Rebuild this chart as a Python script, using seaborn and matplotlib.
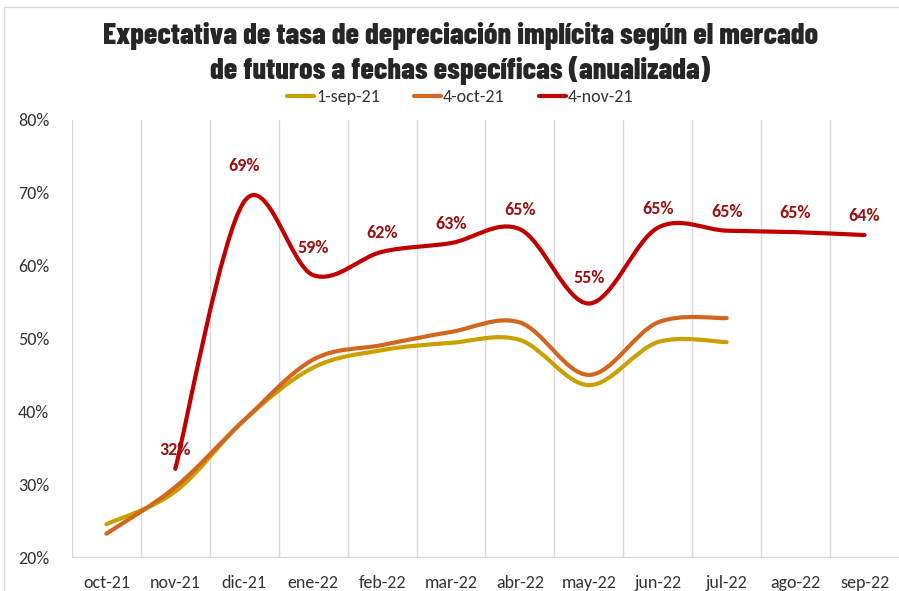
import numpy as np
import pandas as pd
import matplotlib
matplotlib.use('Agg')
import matplotlib.pyplot as plt
import seaborn as sns
from matplotlib.path import Path
from matplotlib.patches import PathPatch, Rectangle
from matplotlib import font_manager

# categories (months) and series values in %
meses = ['oct-21', 'nov-21', 'dic-21', 'ene-22', 'feb-22', 'mar-22',
         'abr-22', 'may-22', 'jun-22', 'jul-22', 'ago-22', 'sep-22']
sep21 = [24.5, 29.0, 38.8, 46.0, 48.4, 49.4, 49.8, 43.6, 49.5, 49.5]
oct21 = [23.2, 29.6, 38.8, 47.1, 49.1, 50.9, 52.2, 45.0, 52.2, 52.8]
nov21 = [32.1, 68.8, 58.7, 61.9, 63.1, 65.0, 54.8, 65.2, 64.8, 64.6, 64.2]
nov21_start = 1  # 4-nov-21 starts at nov-21

series = ['1-sep-21', '4-oct-21', '4-nov-21']
colores = ['#C9A000', '#D2661E', '#C00000']
label_color = '#9A0F0F'
titulo = ['Expectativa de tasa de depreciación implícita según el mercado',
          'de futuros a fechas específicas (anualizada)']

rows = []
for i, v in enumerate(sep21):
    rows.append((series[0], i, v))
for i, v in enumerate(oct21):
    rows.append((series[1], i, v))
for i, v in enumerate(nov21):
    rows.append((series[2], i + nov21_start, v))
df = pd.DataFrame(rows, columns=['serie', 'pos', 'valor'])


def pick(prefs, default):
    names = {f.name for f in font_manager.fontManager.ttflist}
    for p in prefs:
        if p in names:
            return p
    return default


body_font = pick(['Carlito', 'Lato'], 'DejaVu Sans')
title_font = pick(['Barlow Condensed', 'Fira Sans Extra Condensed', 'Fjalla One',
                   'Oswald'], 'DejaVu Sans')

sns.set_style('white')
plt.rcParams['font.family'] = [body_font, 'DejaVu Sans']


def smooth_path(x, y):
    # Excel-like smoothed line: cubic bezier segments through each point
    pts = np.column_stack([x, y]).astype(float)
    n = len(pts)
    verts = [pts[0]]
    codes = [Path.MOVETO]
    for i in range(n - 1):
        p0 = pts[max(i - 1, 0)]
        p1 = pts[i]
        p2 = pts[i + 1]
        p3 = pts[min(i + 2, n - 1)]
        c1 = p1 + (p2 - p0) / 6.0
        c2 = p2 - (p3 - p1) / 6.0
        verts += [c1, c2, p2]
        codes += [Path.CURVE4] * 3
    return Path(verts, codes)


fig = plt.figure(figsize=(8.99, 5.91), dpi=100)
ax = fig.add_axes([0.080, 0.0575, 0.92, 0.7395])

sns.lineplot(data=df, x='pos', y='valor', hue='serie', hue_order=series,
             palette=colores, linewidth=3, ax=ax, legend=True)

# replace straight segments with smoothed curves
for line, c in zip(ax.lines, colores):
    xd, yd = line.get_xdata(), line.get_ydata()
    patch = PathPatch(smooth_path(xd, yd), facecolor='none', edgecolor=c,
                      lw=3, capstyle='round', joinstyle='round',
                      transform=ax.transData, zorder=3)
    ax.add_patch(patch)
    line.set_visible(False)

# data labels for 4-nov-21 (a few sit higher, as in the original)
extra = {1: 12, 2: 6, 6: 5}
for i, v in enumerate(nov21):
    ax.annotate(f'{round(v):.0f}%', (i + nov21_start, v),
                xytext=(0, 13.5 + extra.get(i, 0)),
                textcoords='offset points', ha='center', va='center',
                fontsize=13, fontweight='bold', color=label_color, zorder=4)

ax.set_xlim(-0.5, len(meses) - 0.5)
ax.set_ylim(20, 80)
ax.set_yticks(range(20, 81, 10))
ax.set_yticklabels([f'{t}%' for t in range(20, 81, 10)])
ax.set_xticks(range(len(meses)))
ax.set_xticklabels(meses)
ax.set_xticks(np.arange(-0.5, len(meses) - 0.5, 1.0), minor=True)
ax.tick_params(axis='x', which='major', length=0, pad=13, labelsize=13,
               labelcolor='#333333')
ax.tick_params(axis='x', which='minor', length=10, width=1, color='#D9D9D9')
ax.tick_params(axis='y', length=0, pad=39, labelsize=13, labelcolor='#333333')
for lab in ax.get_yticklabels():
    lab.set_horizontalalignment('left')
ax.grid(axis='x', which='minor', color='#D9D9D9', lw=1)
ax.grid(axis='y', visible=False)
ax.set_xlabel('')
ax.set_ylabel('')
for s in ['top', 'right', 'left']:
    ax.spines[s].set_visible(False)
ax.spines['bottom'].set_color('#D9D9D9')
ax.spines['bottom'].set_linewidth(1)
ax.set_axisbelow(True)

handles, labels = ax.get_legend_handles_labels()
leg = ax.legend(handles, labels, loc='center', bbox_to_anchor=(0.512, 1 - 97 / 591),
                bbox_transform=fig.transFigure, ncol=3, frameon=False,
                fontsize=13, handlelength=1.5, handletextpad=0.1,
                columnspacing=1.9)
for t in leg.get_texts():
    t.set_color('#333333')

# two-line bold condensed title
fig.text(0.512, 1 - 44 / 591, titulo[0], ha='center', va='baseline',
         fontsize=21.7, fontweight=800, family=[title_font, 'DejaVu Sans'])
fig.text(0.512, 1 - 79 / 591, titulo[1], ha='center', va='baseline',
         fontsize=21.7, fontweight=800, family=[title_font, 'DejaVu Sans'])

fig.patches.append(Rectangle((4 / 899, -0.1), 2, 1.1 - 7 / 591,
                             transform=fig.transFigure, fill=False,
                             edgecolor='#D9D9D9', lw=1))

fig.savefig('out.png', dpi=100)
